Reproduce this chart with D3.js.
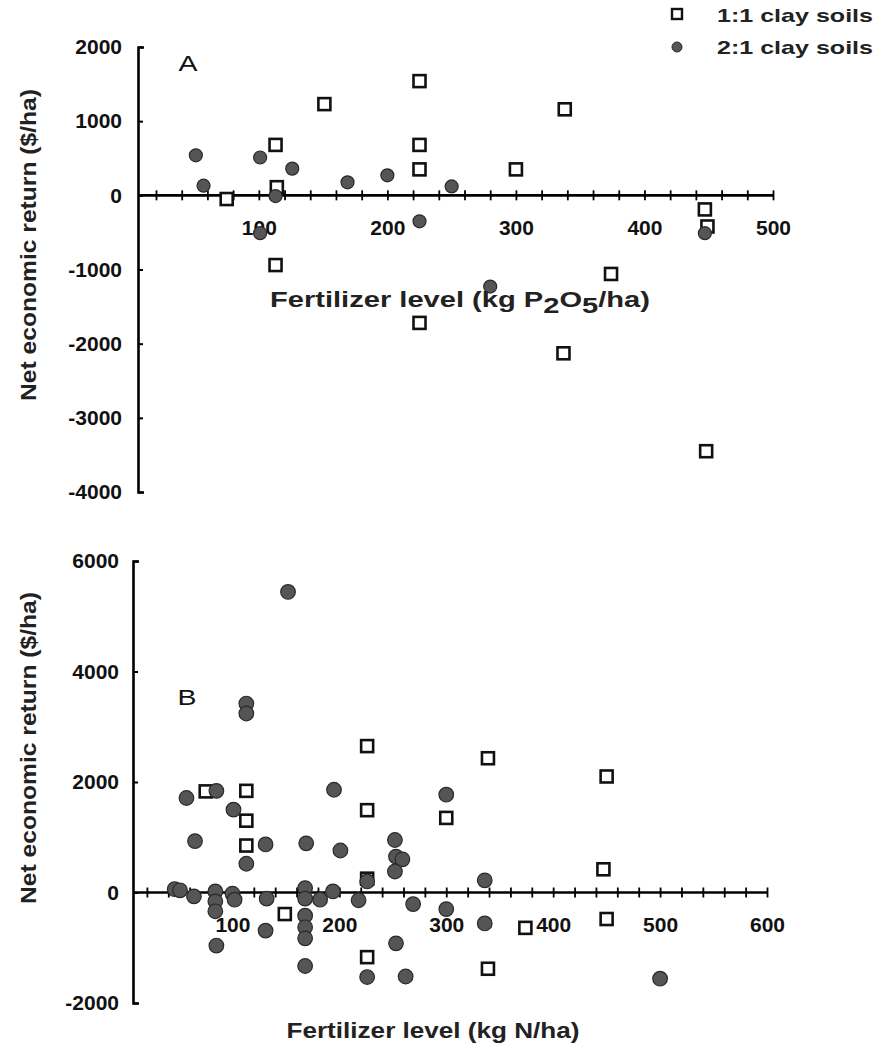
<!DOCTYPE html>
<html><head><meta charset="utf-8">
<script src="https://cdnjs.cloudflare.com/ajax/libs/d3/7.8.5/d3.min.js"></script>
<style>
body{margin:0;background:#fff;}
text{font-family:"Liberation Sans",Arial,sans-serif;}
</style></head>
<body><svg id="c" width="876" height="1047"></svg>
<script>
// Panel A: phosphorus (kg P2O5/ha)
const aSquaresX = [75,113,114,113,151,225,225,225,225,300,338,337,374,447,449,448];
const aSquaresY = [-50,680,110,-940,1230,1540,680,350,-1720,350,1160,-2130,-1060,-190,-420,-3450];
const aCirclesX = [51,57,101,101,113,126,169,200,225,250,280,447];
const aCirclesY = [540,130,510,-510,-10,360,175,270,-350,120,-1230,-510];
// Panel B: nitrogen (kg N/ha)
const bSquaresX = [75,113,113,113,149,226,226,226,226,300,339,339,374,447,450,450];
const bSquaresY = [1830,1840,1300,850,-390,2650,1490,250,-1170,1350,2430,-1380,-640,420,-480,2100];
const bCirclesX = [57,65,85,101,113,113,113,131,152,169,195,201,252,253,259,252,300,336,
  46,51,64,84,84,84,100,102,132,168,168,168,168,168,182,194,218,226,269,300,336,
  85,131,168,226,253,262,500];
const bCirclesY = [1710,930,1840,1500,3420,3240,520,870,5440,890,1860,760,950,650,600,380,1770,220,
  60,40,-70,20,-160,-340,-20,-130,-110,80,-110,-420,-630,-830,-130,20,-140,200,-210,-300,-560,
  -960,-690,-1330,-1530,-920,-1520,-1560];
const aXTicks = d3.range(20,501,20);
const aXLabels = [100,200,300,400,500];
const aYTicks = [2000,1000,0,-1000,-2000,-3000,-4000];
const bXTicks = d3.range(20,601,20);
const bXLabels = [100,200,300,400,500,600];
const bYTicks = [6000,4000,2000,0,-2000];
const legendLabels = ["1:1 clay soils","2:1 clay soils"];

const svg = d3.select("#c");
const zip = (xs,ys)=>xs.map((x,i)=>[x,ys[i]]);

function panel(cfg){
  const g = svg.append("g");
  const x = d3.scaleLinear().domain(cfg.xDom).range(cfg.xRange);
  const y = d3.scaleLinear().domain(cfg.yDom).range(cfg.yRange);
  // x axis at y=0
  const xa = g.append("g").attr("transform",`translate(0,${y(0)})`)
    .call(d3.axisBottom(x).tickValues(cfg.xTicks).tickSize(5).tickSizeOuter(0).tickPadding(20)
      .tickFormat(d=>cfg.xLabels.includes(d)?String(d):""));
  xa.select(".domain").attr("stroke-width",2.6).attr("d",`M${cfg.xRange[0]},0H${x(cfg.xTicks[cfg.xTicks.length-1])}`);
  xa.selectAll(".tick line").attr("y1",-5).attr("stroke-width",1.8);
  xa.selectAll(".tick text").attr("font-size",21).attr("font-weight","bold").attr("fill","#111");
  // y axis
  const ya = g.append("g").attr("transform",`translate(${cfg.xRange[0]},0)`)
    .call(d3.axisLeft(y).tickValues(cfg.yTicks).tickSize(-5).tickSizeOuter(-6).tickPadding(cfg.yPad)
      .tickFormat(d=>String(d)));
  ya.select(".domain").attr("stroke-width",2.6);
  ya.selectAll(".tick line").attr("stroke-width",2);
  ya.selectAll(".tick text").attr("font-size",21).attr("font-weight","bold").attr("fill","#111");
  // points
  g.selectAll("rect.sq").data(zip(cfg.sx,cfg.sy)).join("rect").attr("class","sq")
    .attr("x",d=>x(d[0])-cfg.sq/2).attr("y",d=>y(d[1])-cfg.sq/2)
    .attr("width",cfg.sq).attr("height",cfg.sq)
    .attr("fill","#fff").attr("stroke","#111").attr("stroke-width",2.6);
  g.selectAll("circle.ci").data(zip(cfg.cx,cfg.cy)).join("circle").attr("class","ci")
    .attr("cx",d=>x(d[0])).attr("cy",d=>y(d[1])).attr("r",cfg.r)
    .attr("fill","#555").attr("stroke","#2a2a2a").attr("stroke-width",1.2);
  // panel letter
  g.append("text").attr("x",cfg.letterPos[0]).attr("y",cfg.letterPos[1]).attr("text-anchor","middle")
    .attr("dominant-baseline","central").attr("font-size",22).attr("fill","#111")
    .attr("textLength",19).attr("lengthAdjust","spacingAndGlyphs").text(cfg.letter);
  // y title
  g.append("text").attr("transform",`translate(${cfg.yTitlePos[0]},${cfg.yTitlePos[1]}) rotate(-90)`)
    .attr("text-anchor","middle").attr("dominant-baseline","central")
    .attr("font-size",22).attr("font-weight","bold").attr("fill","#222")
    .attr("textLength",312).attr("lengthAdjust","spacingAndGlyphs").text("Net economic return ($/ha)");
  return {g,x,y};
}

const A = panel({xDom:[6,500],xRange:[138,773],yDom:[-4000,2000],yRange:[492,47],
  xTicks:aXTicks,xLabels:aXLabels,yTicks:aYTicks,yPad:16,
  sx:aSquaresX,sy:aSquaresY,cx:aCirclesX,cy:aCirclesY,sq:12,r:6.5,
  letter:"A",letterPos:[188,63],yTitlePos:[28,245]});
const tA = A.g.append("text").attr("x",460).attr("y",307).attr("text-anchor","middle")
  .attr("font-size",22).attr("font-weight","bold").attr("fill","#222")
  .attr("textLength",380).attr("lengthAdjust","spacingAndGlyphs");
tA.append("tspan").text("Fertilizer level (kg P");
tA.append("tspan").attr("dy",6).text("2");
tA.append("tspan").attr("dy",-6).text("O");
tA.append("tspan").attr("dy",6).text("5");
tA.append("tspan").attr("dy",-6).text("/ha)");

const B = panel({xDom:[7,600],xRange:[133,767],yDom:[-2000,6000],yRange:[1003,561],
  xTicks:bXTicks,xLabels:bXLabels,yTicks:bYTicks,yPad:14,
  sx:bSquaresX,sy:bSquaresY,cx:bCirclesX,cy:bCirclesY,sq:12,r:7.3,
  letter:"B",letterPos:[187,697],yTitlePos:[28,748]});
B.g.append("text").attr("x",433).attr("y",1038).attr("text-anchor","middle")
  .attr("font-size",22).attr("font-weight","bold").attr("fill","#222")
  .attr("textLength",293).attr("lengthAdjust","spacingAndGlyphs").text("Fertilizer level (kg N/ha)");

// legend
const lg = svg.append("g");
lg.append("rect").attr("x",677-5).attr("y",14-5).attr("width",10).attr("height",10)
  .attr("fill","#fff").attr("stroke","#111").attr("stroke-width",2.4);
lg.append("circle").attr("cx",677).attr("cy",47).attr("r",5).attr("fill","#555").attr("stroke","#2a2a2a");
lg.selectAll("text").data(legendLabels).join("text").attr("x",717).attr("y",(d,i)=>[15,47][i])
  .attr("dominant-baseline","central").attr("font-size",19).attr("font-weight","bold").attr("fill","#222")
  .attr("textLength",156).attr("lengthAdjust","spacingAndGlyphs").text(d=>d);
</script></body></html>
